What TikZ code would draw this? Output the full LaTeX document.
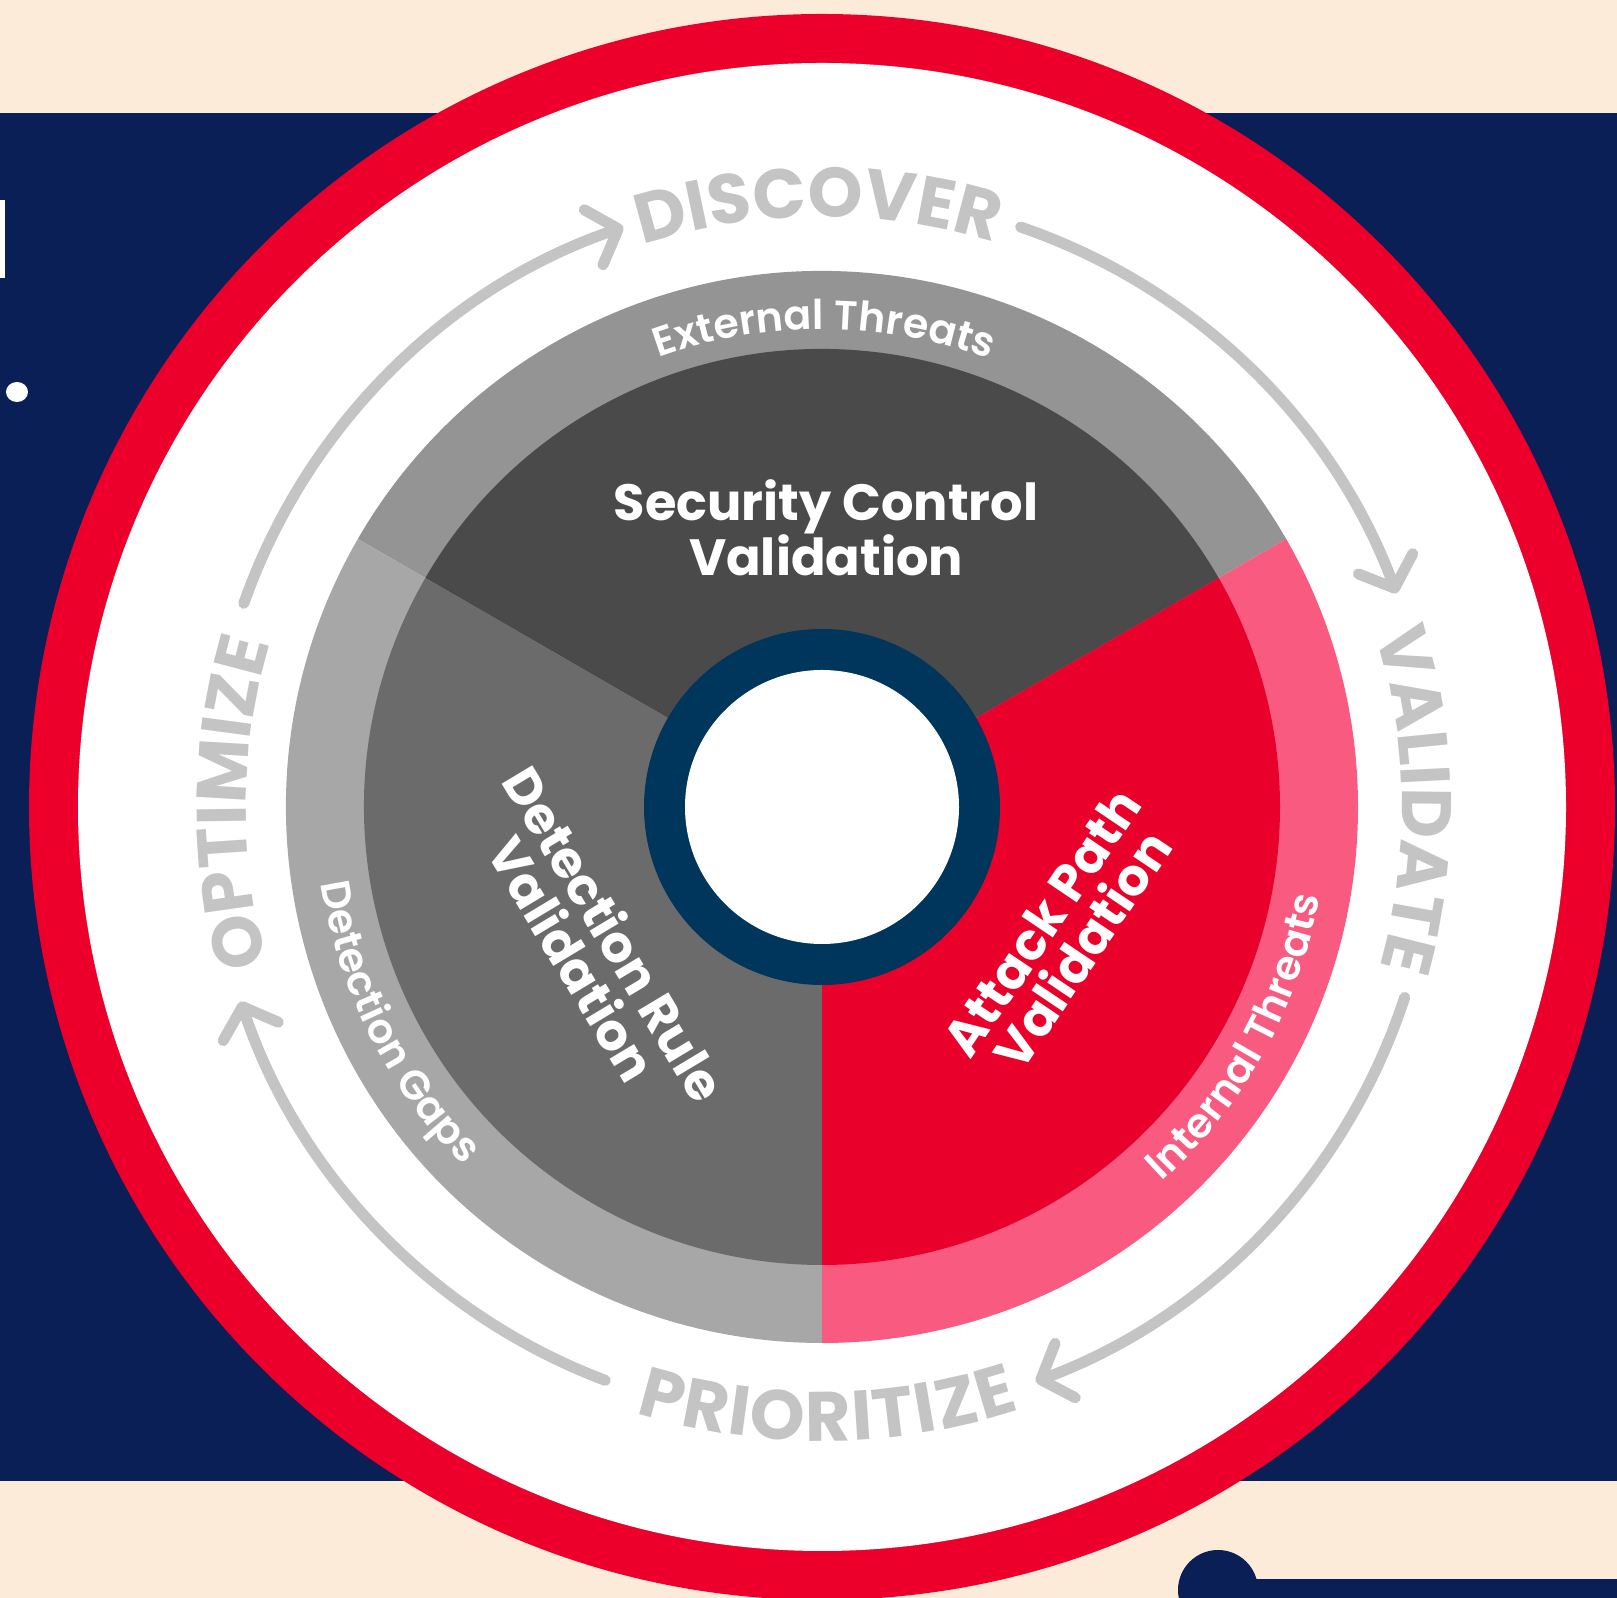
\documentclass[tikz,border=0pt]{standalone}
\usepackage{fontspec}
\setmainfont{Poppins}
\newfontfamily\popsemi{Poppins SemiBold}
\usetikzlibrary{arrows.meta,decorations.text}
\definecolor{beige}{HTML}{FDEBD9}
\definecolor{navy}{HTML}{0A1F56}
\definecolor{ringred}{HTML}{EC002B}
\definecolor{secred}{HTML}{E9002B}
\definecolor{pinkring}{HTML}{F95A80}
\definecolor{dgray}{HTML}{4A4A4A}
\definecolor{dgring}{HTML}{949494}
\definecolor{mgray}{HTML}{6B6B6B}
\definecolor{mgring}{HTML}{A7A7A7}
\definecolor{arcgray}{HTML}{C4C4C4}
\definecolor{hub}{HTML}{00365C}
\newcommand\outerfont{\fontsize{70}{70}\selectfont\bfseries\color{arcgray}}
\newcommand\ringfont{\fontsize{41}{41}\selectfont\popsemi\color{white}}
\begin{document}
\begin{tikzpicture}[x=1pt,y=1pt,
  cyclearc/.style={draw=arcgray, line width=11pt, line cap=round, -{Straight Barb[length=26pt,width=58pt,round]}},
  sector/.style={font=\fontsize{51}{49}\selectfont\bfseries, text=white, align=center, inner sep=0pt},
  curvedtext/.style={decorate, decoration={text along path, text align=fit to path, text={#1}}},
  centredtext/.style={decorate, decoration={text along path, text align=center, text={#1}}}
]
\useasboundingbox (0,0) rectangle (1617,1598);
% background bands
\fill[beige] (0,0) rectangle (1617,1598);
\fill[navy] (0,117) rectangle (1617,1485);
\fill[white] (0,1320) rectangle (4.5,1398);
\fill[white] (17,1206) ellipse[x radius=11, y radius=10];
\fill[navy] (1218,8) circle[radius=40];
\fill[navy] (1218,0) rectangle (1617,19);
% big circle
\coordinate (C) at (822,791);
\fill[ringred] (C) circle[radius=793];
\fill[white] (C) circle[radius=744];
% outer ring sectors
\fill[dgring] (C) -- ++(30:536) arc[start angle=30,end angle=150,radius=536] -- cycle;
\fill[mgring] (C) -- ++(150:536) arc[start angle=150,end angle=270,radius=536] -- cycle;
\fill[pinkring] (C) -- ++(270:536) arc[start angle=270,end angle=390,radius=536] -- cycle;
% inner sectors
\fill[dgray] (C) -- ++(30:458) arc[start angle=30,end angle=150,radius=458] -- cycle;
\fill[mgray] (C) -- ++(150:458) arc[start angle=150,end angle=270,radius=458] -- cycle;
\fill[secred] (C) -- ++(270:458) arc[start angle=270,end angle=390,radius=458] -- cycle;
% hub
\fill[hub] (C) circle[radius=178];
\fill[white] (C) circle[radius=137];
% cycle arcs
\coordinate (a1) at ([shift={(160.6:613)}]C);
\coordinate (a2) at ([shift={(71.1:613)}]C);
\coordinate (a3) at ([shift={(-18.1:613)}]C);
\coordinate (a4) at ([shift={(249.3:613)}]C);
\draw[cyclearc] (a1) arc[start angle=160.6,end angle=108.9,radius=613];
\draw[cyclearc] (a2) arc[start angle=71.1,end angle=20.4,radius=613];
\draw[cyclearc] (a3) arc[start angle=-18.1,end angle=-69.6,radius=613];
\draw[cyclearc] (a4) arc[start angle=249.3,end angle=198.5,radius=613];
% outer labels
\path[centredtext={|\outerfont|DISCOVER}] ([shift={(120:590)}]C) arc[start angle=120,end angle=60.7,radius=590];
\path[centredtext={|\outerfont|VALIDATE}] ([shift={(30.7:580)}]C) arc[start angle=30.7,end angle=-29.3,radius=580];
\path[curvedtext={|\outerfont|PRIORITIZE}] ([shift={(252.9:634)}]C) arc[start angle=252.9,end angle=288.2,radius=634];
\path[centredtext={|\outerfont|OPTIMIZE}] ([shift={(209.6:576)}]C) arc[start angle=209.6,end angle=149.6,radius=576];
% ring labels
\path[curvedtext={|\ringfont|External Threats}] ([shift={(110:478)}]C) arc[start angle=110,end angle=69.5,radius=478];
\path[curvedtext={|\ringfont|Detection Gaps}] ([shift={(188.7:507)}]C) arc[start angle=188.7,end angle=225,radius=507];
\path[curvedtext={|\ringfont|Internal Threats}] ([shift={(-47.8:506)}]C) arc[start angle=-47.8,end angle=-10.2,radius=506];
% sector labels
\node[sector] (scv) at (826,1070) {Security Control\\Validation};
\node[sector, rotate=-59] (drv) at (594,652) {Detection Rule\\Validation};
\node[sector, rotate=56] (apv) at (1062,662) {Attack Path\\Validation};
\end{tikzpicture}
\end{document}
